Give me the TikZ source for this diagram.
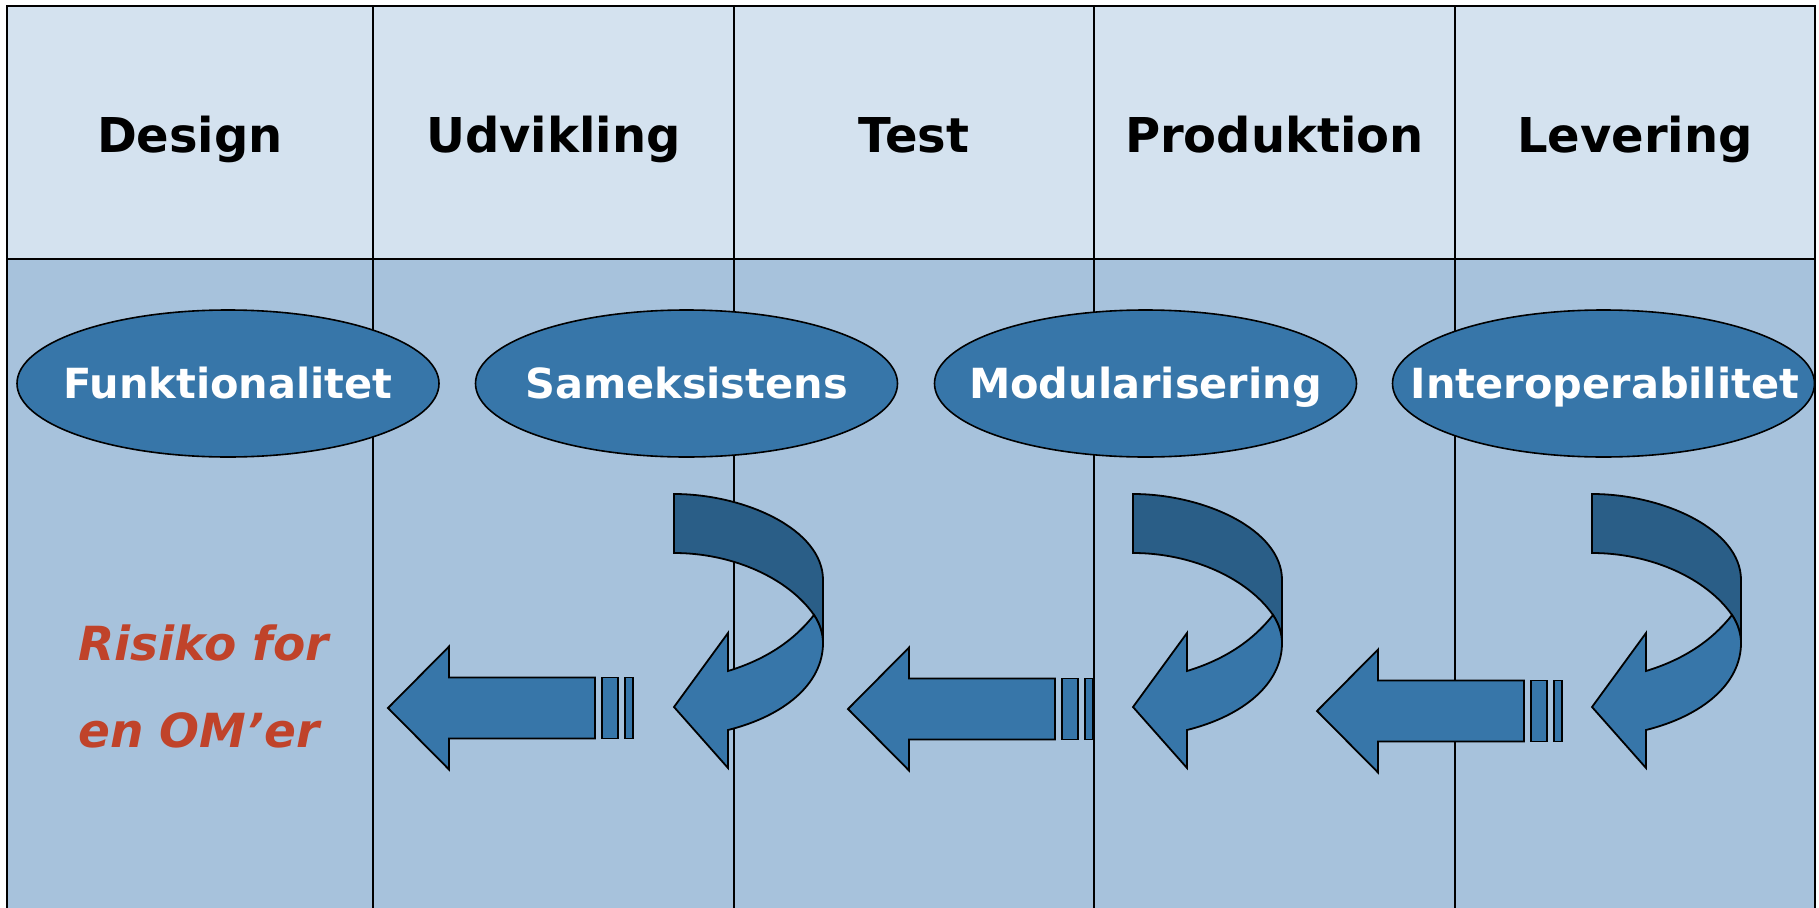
\documentclass[tikz,border=0pt]{standalone}
\usepackage{fontspec}
\setmainfont{DejaVu Sans}[BoldFont={DejaVu Sans Bold},ItalicFont={DejaVu Sans Oblique},BoldItalicFont={DejaVu Sans Bold Oblique}]
\usetikzlibrary{shapes.geometric}
\definecolor{hdrfill}{HTML}{D4E2EF}
\definecolor{bodyfill}{HTML}{A7C2DC}
\definecolor{shapefill}{HTML}{3776A9}
\definecolor{backfill}{HTML}{2A5E87}
\definecolor{riskred}{HTML}{C0432A}
\tikzset{
  gridline/.style={draw=black,line width=2.4pt},
  hdrtext/.style={anchor=base,inner sep=0pt,font=\fontsize{48}{58}\selectfont\bfseries,text=black},
  oval/.style={ellipse,draw=black,line width=1.6pt,fill=shapefill,minimum width=422pt,minimum height=147pt,inner sep=0pt},
  ovaltext/.style={anchor=base,inner sep=0pt,font=\fontsize{41.5}{50}\selectfont\bfseries,text=white},
  risk/.style={anchor=base west,inner sep=0pt,font=\fontsize{47}{56}\selectfont\bfseries\itshape,text=riskred},
  arrowshape/.style={draw=black,line width=1.8pt,fill=shapefill,line join=miter},
  backshape/.style={draw=black,line width=1.8pt,fill=backfill,line join=miter}
}
\begin{document}
\begin{tikzpicture}[x=1pt,y=-1pt]
\useasboundingbox (0,0) rectangle (1819,907);
\fill[white] (0,0) rectangle (1819,907);
\fill[hdrfill] (7,6) rectangle (1815,259);
\fill[bodyfill] (7,259) rectangle (1815,912);
\draw[gridline] (7,912) -- (7,6) -- (1815,6) -- (1815,912);
\draw[gridline] (7,259) -- (1815,259);
\foreach \x in {373,734,1094,1455} \draw[gridline] (\x,6) -- (\x,912);
% header texts
\node[hdrtext] (h1) at (190,152) {Design};
\node[hdrtext] (h2) at (553.5,152) {Udvikling};
\node[hdrtext] (h3) at (914,152) {Test};
\node[hdrtext] (h4) at (1274.5,152) {Produktion};
\node[hdrtext] (h5) at (1635,152) {Levering};
% ellipses
\node[oval] (e1) at (228,383.5) {};
\node[oval] (e2) at (686.5,383.5) {};
\node[oval] (e3) at (1145.5,383.5) {};
\node[oval] (e4) at (1603.5,383.5) {};
\node[ovaltext] (t1) at (228,398) {Funktionalitet};
\node[ovaltext] (t2) at (686.5,398) {Sameksistens};
\node[ovaltext] (t3) at (1145.5,398) {Modularisering};
\node[ovaltext] (t4) at (1605,398) {Interoperabilitet};
% risk text
\node[risk] (r1) at (78,660) {Risiko for};
\node[risk] (r2) at (78,747) {en OM’er};
% curved arrows
\foreach \cx in {674,1133,1592} {
  \begin{scope}[shift={(\cx,494)}]
    \path[backshape] (0,0) .. controls (70,0) and (149,35) .. (149,86) -- (149,149)
      .. controls (149,140) and (146,130) .. (140,121)
      .. controls (115,85) and (60,59) .. (0,59) -- cycle;
    \path[arrowshape] (140,121) .. controls (125,140) and (100,163) .. (54,177)
      -- (54,139) -- (0,213) -- (54,274) -- (54,236)
      .. controls (110,222) and (149,190) .. (149,149)
      .. controls (149,140) and (146,130) .. (140,121) -- cycle;
  \end{scope}
}
% straight arrows
\foreach \tx/\ty in {388/708,848/709,1317/711} {
  \begin{scope}[shift={(\tx,\ty)}]
    \path[arrowshape] (0,0) -- (61,-61.5) -- (61,-30.5) -- (207,-30.5) -- (207,30.5) -- (61,30.5) -- (61,61.5) -- cycle;
    \path[arrowshape] (214,-30.5) rectangle (230,30.5);
    \path[arrowshape] (237,-30.5) rectangle (245,30.5);
  \end{scope}
}
\end{tikzpicture}
\end{document}
